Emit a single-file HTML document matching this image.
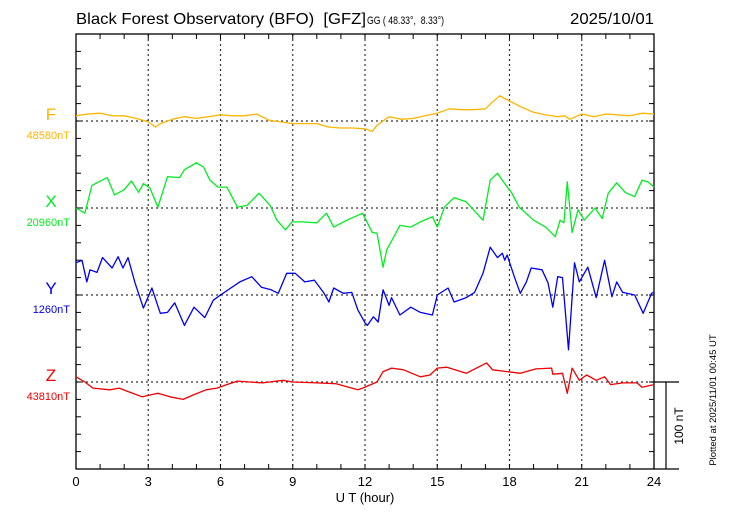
<!DOCTYPE html>
<html><head><meta charset="utf-8"><style>
html,body{margin:0;padding:0;background:#fff;}
svg{display:block;font-family:"Liberation Sans",sans-serif;}
</style></head><body>
<svg id="chart" width="730" height="520" viewBox="0 0 730 520" xmlns="http://www.w3.org/2000/svg">
<text x="76" y="24" font-size="16" textLength="290" lengthAdjust="spacingAndGlyphs" fill="#000" style="white-space:pre">Black Forest Observatory (BFO)  [GFZ]</text>
<text x="367" y="24" font-size="11" textLength="77" lengthAdjust="spacingAndGlyphs" fill="#000" style="white-space:pre">GG ( 48.33°,  8.33°)</text>
<text x="570" y="24" font-size="16" textLength="84" lengthAdjust="spacingAndGlyphs" fill="#000">2025/10/01</text>
<text x="365" y="502" font-size="13" text-anchor="middle" fill="#000">U T (hour)</text>
<text transform="translate(716,400) rotate(-90)" font-size="9.5" text-anchor="middle" fill="#000">Plotted at 2025/11/01 00:45 UT</text>
<text transform="translate(683,426) rotate(-90)" font-size="12" text-anchor="middle" fill="#000">100 nT</text>
<g id="g"></g>
</svg>
<script>
const hoursTicks = [0,3,6,9,12,15,18,21,24];
const fHours = [0,0.5,1,1.5,2,2.5,3,3.3,3.5,4,4.5,5,5.5,6,6.5,7,7.5,8,8.5,9,9.5,10,10.5,11,11.5,12,12.3,12.5,13,13.5,14,14.5,15,15.5,16,16.5,17,17.3,17.6,18,18.5,19,19.5,20,20.3,20.5,21,21.5,22,22.5,23,23.5,24];
const fValues = [6,8,9,6,6,3,-1,-7,-3,2,5,3,5,7,6,6,8,1,-1,-3,-3,-3,-7,-8,-8,-9,-12,-5,5,2,3,6,9,14,13,13,14,22,29,23,16,10,7,5,6,2,8,5,8,7,6,9,8];
const xHours = [0,0.37,0.66,1.3,1.6,2.0,2.3,2.6,2.8,3.07,3.4,3.8,4.3,4.5,5.0,5.3,5.56,5.9,6.26,6.7,7.1,7.6,8.06,8.34,8.7,8.97,9.4,10,10.4,10.7,11.25,11.9,12.3,12.5,12.75,12.9,13.2,13.45,13.9,14.3,14.8,15.0,15.3,15.7,16.2,16.6,16.9,17.2,17.5,17.7,18.1,18.4,19.0,19.5,19.9,20.1,20.26,20.4,20.5,20.6,20.85,21.1,21.55,21.85,22.1,22.45,22.8,23.2,23.5,23.75,24];
const xValues = [0,-6,26,35,15,21,31,18,28,23,1,36,35,44,52,47,32,24,24,1,3,17,3,-14,-25,-16,-16,-17,-6,-22,-14,-6,-28,-29,-68,-48,-33,-20,-22,-16,-10,-22,1,12,7,-5,-14,32,40,32,17,1,-14,-22,-33,-14,-17,30,1,-28,-2,-14,0,-12,17,29,18,13,32,30,24];
const yHours = [0,0.25,0.45,0.58,0.87,1.1,1.5,1.75,1.95,2.16,2.45,2.8,3.15,3.5,3.8,4.1,4.5,4.9,5.35,5.7,6.0,6.8,7.3,7.7,8.1,8.4,8.75,9.1,9.5,9.9,10.3,10.5,10.7,11.1,11.45,11.7,12.0,12.1,12.35,12.55,12.75,13.0,13.1,13.45,13.9,14.3,14.8,15.0,15.45,15.7,16.2,16.55,16.9,17.2,17.5,17.7,17.8,17.9,18.2,18.45,18.7,18.9,19.35,19.6,19.8,20.0,20.2,20.45,20.7,20.9,21.25,21.6,21.95,22.25,22.45,22.7,23.2,23.55,23.9,24];
const yValues = [37,40,15,29,26,43,31,44,31,43,14,-15,8,-21,-20,-9,-35,-14,-26,-6,0,15,21,9,6,2,25,25,15,17,2,-8,8,2,3,-17,-32,-35,-25,-31,6,-12,-3,-23,-14,-20,-23,0,8,-8,-3,3,25,55,43,48,40,46,21,2,15,31,29,14,-14,21,20,-63,37,15,32,-3,40,-2,15,3,0,-21,2,3];
const zHours = [0,0.37,0.7,1.4,1.8,2.25,2.75,3.4,3.9,4.45,4.85,5.4,5.85,6.26,6.7,7.2,7.75,8.6,9.0,10,10.8,11.7,11.9,12.5,12.75,13.1,13.6,14.3,14.7,15.0,15.4,16.2,17.05,17.3,17.9,18.45,19.1,19.75,19.8,20.2,20.4,20.6,20.9,21.2,21.6,21.95,22.2,22.7,23.3,23.5,24];
const zValues = [6,0,-7,-9,-7,-12,-17,-13,-17,-20,-15,-9,-7,-3,1,0,-1,2,0,-1,-2,-9,-7,0,12,16,14,6,8,16,17,10,22,14,12,10,15,16,9,10,-13,16,2,8,2,6,-3,-1,-1,-6,-3];
const compNames = ["F","X","Y","Z"];
const baseLabels = ["48580nT","20960nT","1260nT","43810nT"];
const colors = ["#ffb400","#00ee20","#0000ee","#ee0000"];

const L=76,R=654,T=34,B=469,PXNT=0.87;
const bases=[121,208,295,382];
const xs=h=>L+(R-L)*h/24;
const ys=(i,v)=>bases[i]-v*PXNT;
const NS="http://www.w3.org/2000/svg";
const g=document.getElementById('g');
function mk(tag,attrs,parent){const e=document.createElementNS(NS,tag);for(const k in attrs)e.setAttribute(k,attrs[k]);(parent||g).appendChild(e);return e;}

for(const h of hoursTicks){ if(h===0||h===24) continue;
  const l=mk('line',{x1:xs(h),x2:xs(h),y1:T,y2:B,stroke:'#333','stroke-width':1.2,'stroke-dasharray':'2,3'});
  
  
}
for(let i=0;i<4;i++){
  const l=mk('line',{x1:L,x2:R,y1:bases[i],y2:bases[i],stroke:'#333','stroke-width':1.2,'stroke-dasharray':'2,3'});
  
  
}
const fr=mk('rect',{x:L,y:T,width:R-L,height:B-T,fill:'none',stroke:'#000','stroke-width':1.3});


for(let h=0;h<=24;h++){
  const t1=mk('line',{x1:xs(h),x2:xs(h),y1:T,y2:T+5,stroke:'#000'});
  
  
  const t2=mk('line',{x1:xs(h),x2:xs(h),y1:B,y2:B-5,stroke:'#000'});
  
  
}
for(const h of hoursTicks){
  const t=mk('text',{x:xs(h),y:486,'font-size':13,'text-anchor':'middle',fill:'#000'});
  t.textContent=String(h);
  
  
}
for(let v=0;v<=500;v+=20){
  const y=B-v*PXNT;
  const a=mk('line',{x1:L,x2:L+5,y1:y,y2:y,stroke:'#000'});
  
  
  const b=mk('line',{x1:R,x2:R-5,y1:y,y2:y,stroke:'#000'});
  
  
}
const sb=mk('path',{d:`M${R} ${bases[3]}H${R+25}M${R} ${B}H${R+25}M${R+12} ${bases[3]}V${B}`,stroke:'#000',fill:'none','stroke-width':1.2});


const H=[fHours,xHours,yHours,zHours],V=[fValues,xValues,yValues,zValues];
for(let i=0;i<4;i++){
  const d=H[i].map((h,k)=>(k?'L':'M')+xs(h).toFixed(1)+' '+ys(i,V[i][k]).toFixed(1)).join('');
  const p=mk('path',{d,fill:'none',stroke:colors[i],'stroke-width':1.3,'stroke-linejoin':'round'});
  
  
  const n=mk('text',{x:51,y:bases[i]-1,'font-size':17,'text-anchor':'middle',fill:colors[i]});
  n.textContent=compNames[i];
  
  
  const bl=mk('text',{x:70,y:bases[i]+18,'font-size':11,'text-anchor':'end',fill:colors[i]});
  bl.textContent=baseLabels[i];
  
  
}
</script>
</body></html>
